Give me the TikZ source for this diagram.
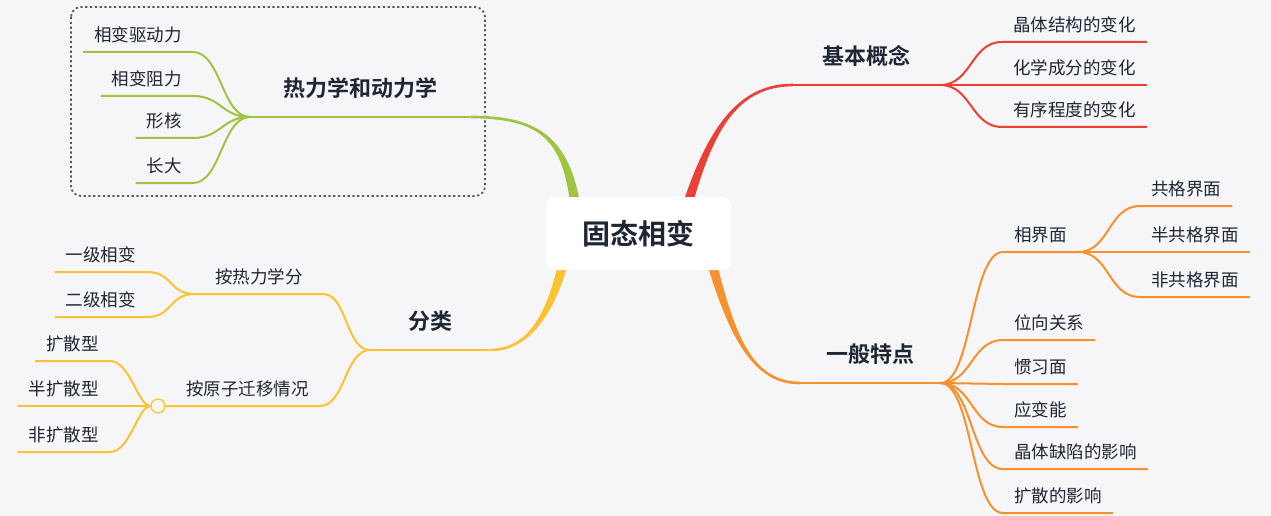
\documentclass[tikz,border=0pt]{standalone}
\usepackage{fontspec}
\setmainfont{Noto Sans CJK SC}[BoldFont={Noto Sans CJK SC Bold}]
\usepackage{tikz}

\definecolor{bggray}{RGB}{246,246,248}
\definecolor{ink}{RGB}{30,38,52}
\definecolor{framegray}{RGB}{88,88,92}
\definecolor{cgreen}{RGB}{158,196,64}
\definecolor{cred}{RGB}{236,64,52}
\definecolor{corange}{RGB}{247,145,45}
\definecolor{cyellow}{RGB}{251,195,50}

\begin{document}
\begin{tikzpicture}[x=1pt, y=-1pt,
    root/.style={rectangle, fill=white, rounded corners=8pt, minimum width=185pt, minimum height=73pt, align=center, text=ink, font=\fontsize{28pt}{32pt}\selectfont\bfseries},
    topic/.style={rectangle, inner xsep=0pt, inner ysep=17pt, text depth=3pt, align=center, text=ink, font=\fontsize{22pt}{26pt}\selectfont\bfseries},
    leaf/.style={rectangle, inner xsep=11pt, inner ysep=8.5pt, text depth=2pt, align=center, text=ink, font=\fontsize{17.5pt}{20pt}\selectfont},
    knob/.style={circle, draw=cyellow, fill=bggray, line width=1.3pt, minimum size=14pt, inner sep=0pt},
    frame/.style={draw=framegray, line width=1.8pt, dash pattern=on 2.2pt off 2.6pt, rounded corners=10pt},
    gline/.style={draw=cgreen, line width=2pt},
    rline/.style={draw=cred, line width=2pt},
    oline/.style={draw=corange, line width=2pt},
    yline/.style={draw=cyellow, line width=2pt},
    trunk/.style={line width=2.6pt}
]

    % Canvas
    \fill[bggray] (0,0) rectangle (1271,516);
    \useasboundingbox (0,0) rectangle (1271,516);

    % Group frame round the green branch
    \draw[frame] (71,7) rectangle (485,196);

    % Main topics
    \node[topic, anchor=south west, minimum width=147pt] (basic) at (793,85) {基本概念};
    \node[topic, anchor=south west, minimum width=140pt] (feature) at (800,383) {一般特点};
    \node[topic, anchor=south west, minimum width=220pt] (thermo) at (250,117) {热力学和动力学};
    \node[topic, anchor=south west, minimum width=120pt] (classify) at (370,350) {分类};

    % Tapered trunks
    \coordinate (gs) at (575,203);
    \coordinate (g1) at (565,135);
    \coordinate (g2) at (535,117);
    \coordinate (rs) at (688,203);
    \coordinate (r1) at (712,125);
    \coordinate (r2) at (740,85);
    \coordinate (os) at (712,264);
    \coordinate (o1) at (732,335);
    \coordinate (o2) at (752,383);
    \coordinate (ys) at (563,264);
    \coordinate (y1) at (545,335);
    \coordinate (y2) at (515,350);

    \fill[cgreen] ([xshift=5pt]gs) .. controls ([xshift=3pt]g1) and ([yshift=1.6pt]g2) .. ([yshift=1.3pt]thermo.south east)
        -- ([yshift=-1.3pt]thermo.south east) .. controls ([yshift=-1.6pt]g2) and ([xshift=-3pt]g1) .. ([xshift=-5pt]gs) -- cycle;
    \fill[cred] ([xshift=-5pt]rs) .. controls ([xshift=-3pt]r1) and ([yshift=1.6pt]r2) .. ([yshift=1.3pt]basic.south west)
        -- ([yshift=-1.3pt]basic.south west) .. controls ([yshift=-1.6pt]r2) and ([xshift=3pt]r1) .. ([xshift=5pt]rs) -- cycle;
    \fill[corange] ([xshift=-5pt]os) .. controls ([xshift=-3pt]o1) and ([yshift=-1.6pt]o2) .. ([yshift=-1.3pt]feature.south west)
        -- ([yshift=1.3pt]feature.south west) .. controls ([yshift=1.6pt]o2) and ([xshift=3pt]o1) .. ([xshift=5pt]os) -- cycle;
    \fill[cyellow] ([xshift=5pt]ys) .. controls ([xshift=3pt]y1) and ([yshift=-1.6pt]y2) .. ([yshift=-1.3pt]classify.south east)
        -- ([yshift=1.3pt]classify.south east) .. controls ([yshift=1.6pt]y2) and ([xshift=-3pt]y1) .. ([xshift=-5pt]ys) -- cycle;

    \draw[gline, trunk] (thermo.south east) -- (thermo.south west);
    \draw[rline, trunk] (basic.south west) -- (basic.south east);
    \draw[oline, trunk] (feature.south west) -- (feature.south east);
    \draw[yline, trunk] (classify.south east) -- (classify.south west);

    % Central node
    \node[root] (root) at (638.5,233.5) {固态相变};

    % Basic concept leaves
    \node[leaf, anchor=south west] (cryst) at (1002,42) {晶体结构的变化};
    \node[leaf, anchor=south west] (chem) at (1002,85) {化学成分的变化};
    \node[leaf, anchor=south west] (order) at (1002,127) {有序程度的变化};

    \draw[rline] (basic.south east) .. controls +(31,0) and +(-31,0) .. (cryst.south west) -- (cryst.south east);
    \draw[rline] (basic.south east) -- (chem.south west) -- (chem.south east);
    \draw[rline] (basic.south east) .. controls +(31,0) and +(-31,0) .. (order.south west) -- (order.south east);

    % General features leaves
    \node[leaf, anchor=south west] (iface) at (1003,252) {相界面};
    \node[leaf, anchor=south west] (coh) at (1140,206) {共格界面};
    \node[leaf, anchor=south west] (semicoh) at (1140,252) {半共格界面};
    \node[leaf, anchor=south west] (incoh) at (1140,297) {非共格界面};
    \node[leaf, anchor=south west] (orient) at (1003,340) {位向关系};
    \node[leaf, anchor=south west] (habit) at (1003,384) {惯习面};
    \node[leaf, anchor=south west] (strain) at (1003,427) {应变能};
    \node[leaf, anchor=south west] (defect) at (1003,469) {晶体缺陷的影响};
    \node[leaf, anchor=south west] (diff) at (1003,513) {扩散的影响};

    \foreach \n in {iface, orient, habit, strain, defect, diff}
        \draw[oline] (feature.south east) .. controls +(32,0) and +(-32,0) .. (\n.south west) -- (\n.south east);
    \foreach \n in {coh, semicoh, incoh}
        \draw[oline] (iface.south east) .. controls +(32,0) and +(-32,0) .. (\n.south west) -- (\n.south east);

    % Thermodynamics and kinetics leaves
    \node[leaf, anchor=south east] (drive) at (193,52) {相变驱动力};
    \node[leaf, anchor=south east] (resist) at (193,96) {相变阻力};
    \node[leaf, anchor=south east] (nucl) at (193,138) {形核};
    \node[leaf, anchor=south east] (growth) at (193,183) {长大};

    \foreach \n in {drive, resist, nucl, growth}
        \draw[gline] (thermo.south west) .. controls +(-28,0) and +(28,0) .. (\n.south east) -- (\n.south west);

    % Classification leaves
    \node[leaf, anchor=south east, minimum width=128pt] (bythermo) at (323,294) {按热力学分};
    \node[leaf, anchor=south east] (byatom) at (320,406) {按原子迁移情况};
    \node[leaf, anchor=south east] (first) at (147,272) {一级相变};
    \node[leaf, anchor=south east] (second) at (147,317) {二级相变};
    \node[leaf, anchor=south east] (diffus) at (110,361) {扩散型};
    \node[leaf, anchor=south east] (semidiff) at (110,406) {半扩散型};
    \node[leaf, anchor=south east] (nondiff) at (110,452) {非扩散型};
    \node[knob] (knob) at (158,406) {};

    \draw[yline] (classify.south west) .. controls +(-24,0) and +(24,0) .. (bythermo.south east) -- (bythermo.south west);
    \draw[yline] (classify.south west) .. controls +(-25,0) and +(25,0) .. (byatom.south east) -- (byatom.south west) -- (knob);
    \foreach \n in {first, second}
        \draw[yline] (bythermo.south west) .. controls +(-26,0) and +(26,0) .. (\n.south east) -- (\n.south west);
    \foreach \n in {diffus, nondiff}
        \draw[yline] (knob) .. controls +(-20,0) and +(20,0) .. (\n.south east) -- (\n.south west);
    \draw[yline] (knob) -- (semidiff.south east) -- (semidiff.south west);

\end{tikzpicture}
\end{document}
